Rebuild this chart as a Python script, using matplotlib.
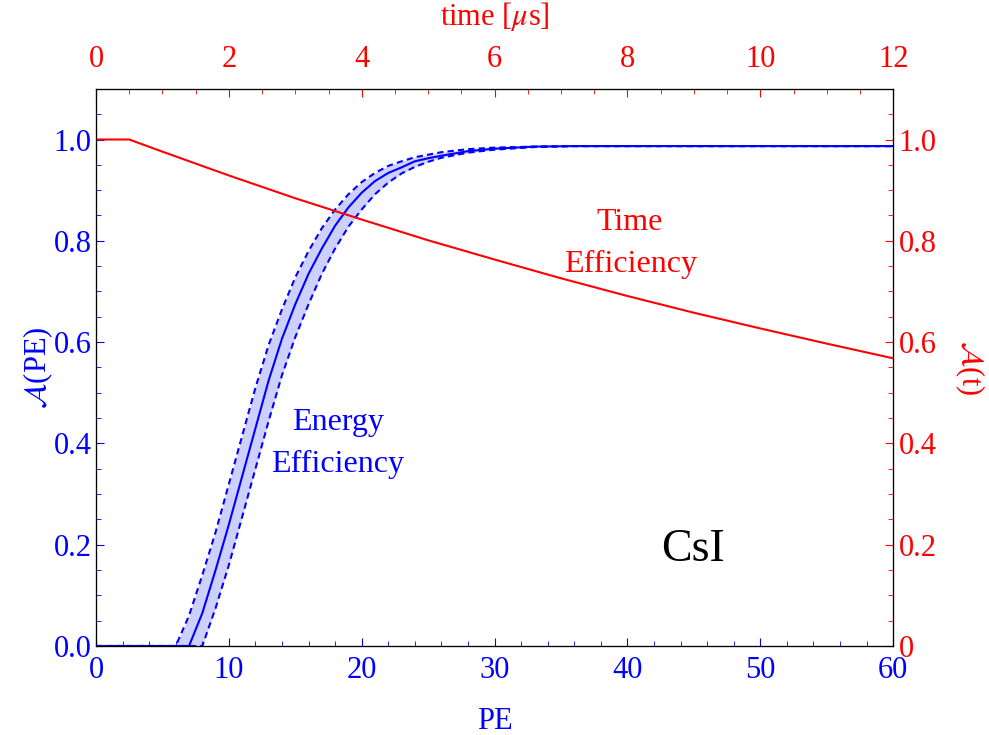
import matplotlib.pyplot as plt
from matplotlib.ticker import MultipleLocator, FixedLocator

plt.rcParams['font.family'] = ['Liberation Serif', 'DejaVu Serif']
plt.rcParams['mathtext.fontset'] = 'stix'

# Energy efficiency vs PE
pe = [0, 6, 7, 8, 9, 10, 11, 12, 13, 14, 15, 16, 17, 18, 19, 20,
      21, 22, 23, 24, 25, 26, 28, 30, 33, 36, 40, 60]
eff_mid = [0, 0, 0, 0.065, 0.15, 0.24, 0.335, 0.43, 0.525, 0.607, 0.675, 0.735, 0.785,
           0.83, 0.866, 0.895, 0.918, 0.934, 0.945, 0.957, 0.963, 0.968, 0.977, 0.982,
           0.986, 0.987, 0.987, 0.987]
eff_hi = [0, 0, 0.06, 0.14, 0.225, 0.32, 0.415, 0.51, 0.595, 0.665, 0.728, 0.78, 0.825,
          0.862, 0.892, 0.916, 0.934, 0.948, 0.957, 0.965, 0.97, 0.975, 0.981, 0.984,
          0.986, 0.987, 0.987, 0.987]
eff_lo = [0, 0, 0, 0, 0.075, 0.16, 0.255, 0.35, 0.445, 0.535, 0.61, 0.675, 0.735,
          0.785, 0.828, 0.862, 0.892, 0.915, 0.933, 0.946, 0.956, 0.964, 0.974, 0.98,
          0.985, 0.987, 0.987, 0.987]

# Time efficiency vs time [us]
t_us = [0, 0.5, 1, 2, 3, 4, 5, 6, 7, 8, 9, 10, 11, 12]
eff_t = [1.0, 1.0, 0.976, 0.929, 0.884, 0.842, 0.801, 0.763, 0.726, 0.691,
         0.658, 0.627, 0.597, 0.568]

fig = plt.figure(figsize=(9.89, 7.35), dpi=100)
ax = fig.add_axes([0.0971, 0.1211, 0.806, 0.758])

ax.fill_between(pe, eff_lo, eff_hi, color='#cdd0fb', lw=0)
ax.plot(pe, eff_mid, color='blue', lw=1.5)
ax.plot(pe, eff_hi, color='blue', lw=1.5, ls=(0, (3, 2)))
ax.plot(pe, eff_lo, color='blue', lw=1.5, ls=(0, (3, 2)))

ax.set_xlim(0, 60)
ax.set_ylim(0, 1.1)
ax.xaxis.set_major_locator(MultipleLocator(10))
ax.xaxis.set_minor_locator(MultipleLocator(2))
ax.yaxis.set_major_locator(FixedLocator([0, 0.2, 0.4, 0.6, 0.8, 1.0]))
ax.yaxis.set_minor_locator(MultipleLocator(0.05))
ax.yaxis.set_major_formatter(lambda v, p: f'{v:.1f}')
ax.tick_params(which='both', direction='in', colors='blue', labelsize=22)
ax.tick_params(which='major', length=6)
ax.tick_params(which='minor', length=3.5)
ax.tick_params(axis='y', pad=3)
ax.tick_params(axis='x', pad=7)
ax.set_xlabel('PE', color='blue', fontsize=22, labelpad=16)
ax.set_ylabel(r'$\mathcal{A}$(PE)', color='blue', fontsize=22, labelpad=-1)

ax2 = ax.twinx()
ax3 = ax2.twiny()
ax3.plot(t_us, eff_t, color='red', lw=1.5)
ax3.set_xlim(0, 12)
ax2.set_ylim(0, 1.1)
ax3.set_ylim(0, 1.1)
ax3.xaxis.set_major_locator(MultipleLocator(2))
ax3.xaxis.set_minor_locator(MultipleLocator(0.5))
ax2.yaxis.set_major_locator(FixedLocator([0, 0.2, 0.4, 0.6, 0.8, 1.0]))
ax2.yaxis.set_minor_locator(MultipleLocator(0.05))
ax2.yaxis.set_major_formatter(lambda v, p: '0' if v == 0 else f'{v:.1f}')
for a in (ax2, ax3):
    a.tick_params(which='both', direction='in', colors='red', labelsize=22)
    a.tick_params(which='major', length=6)
    a.tick_params(which='minor', length=3.5)
ax2.tick_params(axis='y', pad=4)
ax3.tick_params(axis='x', pad=11)
ax3.set_xlabel(r'time [$\mu$s]', color='red', fontsize=22, labelpad=14)
ax2.set_ylabel(r'$\mathcal{A}$(t)', color='red', fontsize=22, rotation=-90, labelpad=36)

for a in (ax, ax2, ax3):
    for s in a.spines.values():
        s.set_color('black')

ax.text(18.2, 0.40, 'Energy\nEfficiency', color='blue', fontsize=23,
        ha='center', va='center', linespacing=1.6)
ax.text(40.2, 0.795, 'Time\nEfficiency', color='red', fontsize=23,
        ha='center', va='center', linespacing=1.6)
ax.text(44.9, 0.19, 'CsI', color='black', fontsize=33, ha='center', va='center')

fig.savefig('out.png', dpi=100)
